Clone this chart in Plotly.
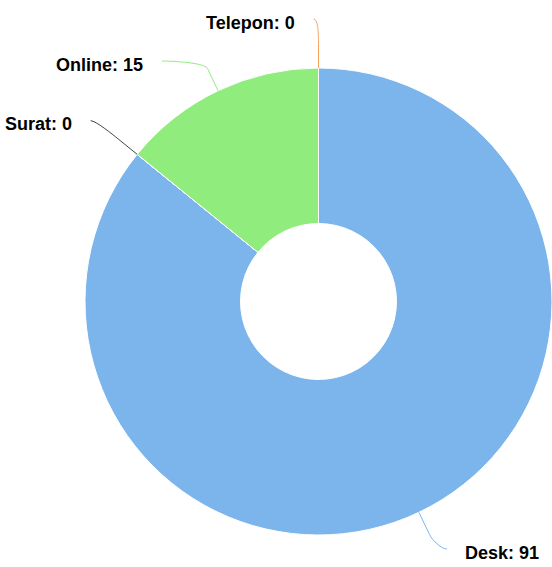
import math
import plotly.graph_objects as go

# ---- data ----
categories = ["Desk", "Surat", "Online", "Telepon"]
values = [91, 0, 15, 0]
colors = ["#7cb5ec", "#434348", "#90ed7d", "#f7a35c"]

# ---- layout constants (pixels) ----
W, H = 552, 567
CX, CY = 318.5, 301.5      # pie centre
R = 233.5                  # outer radius
HOLE = 0.334
LABEL_R = 287              # label circle radius
BREAK_OFF = 24.5           # straight part of connector beyond the edge
PAD = 5
MIN_GAP = 42
Y_MIN, Y_MAX = 19, 549
TEXT_GAP_L, TEXT_GAP_R = 17, 16

total = sum(values)

fig = go.Figure()
fig.add_trace(go.Scatter(x=[None], y=[None], showlegend=False, hoverinfo="skip"))
fig.add_trace(go.Pie(
    labels=categories, values=values, sort=False, direction="clockwise",
    rotation=0, hole=HOLE, textinfo="none", hoverinfo="label+value",
    marker=dict(colors=colors, line=dict(color="#ffffff", width=1)),
    domain=dict(x=[(CX - R) / W, min(1.0, (CX + R) / W)],
                y=[1 - (CY + R) / H, 1 - (CY - R) / H]),
    showlegend=False,
))

# compute label positions
items = []
cum = 0
for name, v, c in zip(categories, values, colors):
    theta = 2 * math.pi * (cum + v / 2) / total
    cum += v
    s, co = math.sin(theta), math.cos(theta)
    left = theta > math.pi
    nx = CX + LABEL_R * s
    ny = CY - LABEL_R * co
    items.append(dict(name=name, v=v, c=c, s=s, co=co, left=left, nx=nx, ny=ny,
                      y=min(max(ny, Y_MIN), Y_MAX), moved=False))

for side in (True, False):
    grp = sorted([it for it in items if it["left"] == side], key=lambda d: d["y"])
    prev = None
    for it in grp:
        if prev is not None and it["y"] < prev + MIN_GAP:
            it["y"] = prev + MIN_GAP
            it["moved"] = True
        prev = it["y"]

shapes, annotations = [], []
for it in items:
    sign = -1 if it["left"] else 1
    if it["moved"]:
        dy = it["y"] - CY
        ax = CX + sign * math.sqrt(max(LABEL_R ** 2 - dy ** 2, 0))
    else:
        ax = it["nx"] + sign * PAD
    ay = it["y"]
    tx, ty = CX + R * it["s"], CY - R * it["co"]
    bx, by = CX + (R + BREAK_OFF) * it["s"], CY - (R + BREAK_OFF) * it["co"]
    c2x, c2y = bx + 0.3 * (bx - tx), by + 0.3 * (by - ty)
    c1x = ax - sign * PAD
    path = (f"M {ax:.2f},{ay:.2f} C {c1x:.2f},{ay:.2f} {c2x:.2f},{c2y:.2f} "
            f"{bx:.2f},{by:.2f} L {tx:.2f},{ty:.2f}")
    shapes.append(dict(type="path", path=path, xref="x", yref="y",
                       line=dict(color=it["c"], width=1)))
    annotations.append(dict(
        x=ax - TEXT_GAP_L if it["left"] else ax + TEXT_GAP_R, y=ay + 3.5,
        xref="x", yref="y", xanchor="right" if it["left"] else "left",
        yanchor="middle", showarrow=False,
        text=f"<b>{it['name']}: {it['v']}</b>",
        font=dict(family="Liberation Sans, Arial, sans-serif", size=18, color="#000000"),
    ))

fig.update_layout(
    width=W, height=H, margin=dict(l=0, r=0, t=0, b=0),
    paper_bgcolor="#ffffff", plot_bgcolor="rgba(0,0,0,0)",
    xaxis=dict(range=[0, W], visible=False, fixedrange=True),
    yaxis=dict(range=[H, 0], visible=False, fixedrange=True),
    shapes=shapes, annotations=annotations, showlegend=False,
)

fig.write_html("out.html", config={"displayModeBar": False},
               post_script="document.body.style.margin='0';")
